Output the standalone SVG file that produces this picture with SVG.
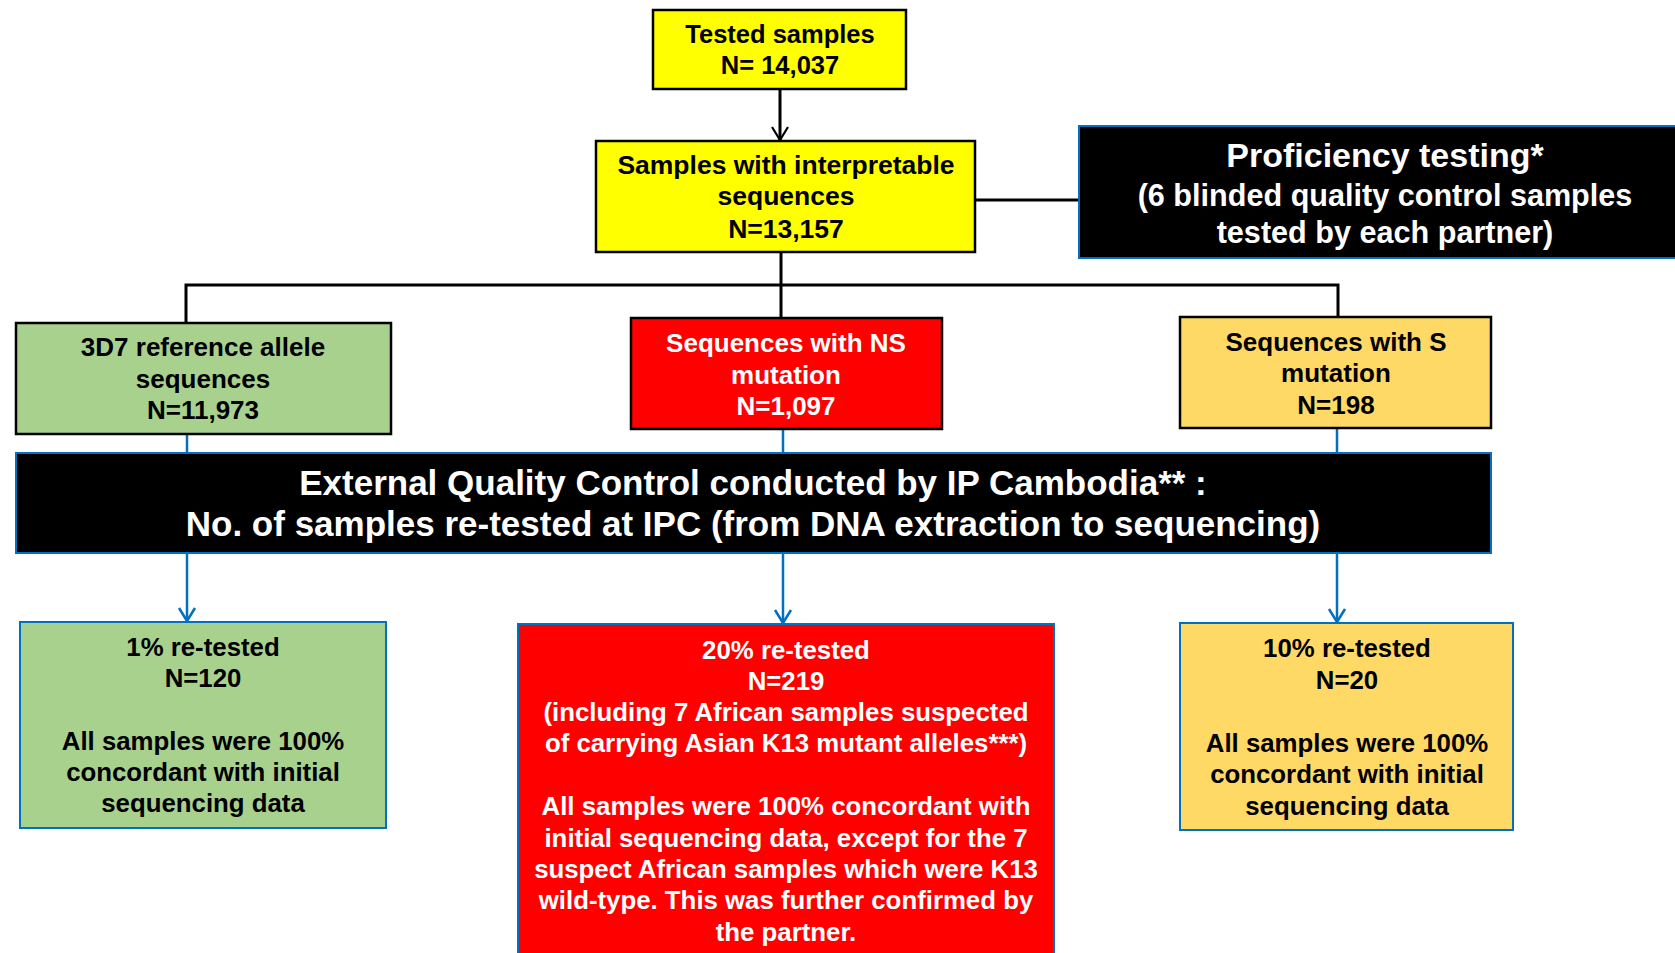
<svg xmlns="http://www.w3.org/2000/svg" width="1675" height="953" viewBox="0 0 1675 953">
<style>
text{font-family:"Liberation Sans",Arial,sans-serif;font-weight:bold;text-anchor:middle}
.k{fill:#000}
.w{fill:#fff}
.f25{font-size:25.8px}
.f26{font-size:26px}
.bk{stroke:#000;stroke-width:2.5}
.bl{stroke:#0070C0;stroke-width:2}
.cb{fill:none;stroke:#000;stroke-width:3}
.cu{fill:none;stroke:#0070C0;stroke-width:2.5}
</style>
<defs>
<marker id="ak" viewBox="0 0 16 20" refX="15" refY="10" markerWidth="16" markerHeight="20" markerUnits="userSpaceOnUse" orient="auto">
<path d="M2,2 L15,10 L2,18" fill="none" stroke="#000" stroke-width="2.2"/>
</marker>
<marker id="au" viewBox="0 0 16 20" refX="15" refY="10" markerWidth="16" markerHeight="20" markerUnits="userSpaceOnUse" orient="auto">
<path d="M2,2 L15,10 L2,18" fill="none" stroke="#0070C0" stroke-width="2.5"/>
</marker>
</defs>
<rect width="1675" height="953" fill="#fff"/>
<g id="connectors">
<path class="cb" d="M780,89 V140" marker-end="url(#ak)" stroke-width="2"/>
<path class="cb" d="M975,200 H1079"/>
<path class="cb" d="M781,252 V318"/>
<path class="cb" d="M186,323 V285 H1338 V317"/>
<path class="cu" d="M187,434 V453"/>
<path class="cu" d="M783,429 V453"/>
<path class="cu" d="M1337,428 V453"/>
<path class="cu" d="M187,553 V621" marker-end="url(#au)"/>
<path class="cu" d="M783,553 V623" marker-end="url(#au)"/>
<path class="cu" d="M1337,553 V622" marker-end="url(#au)"/>
</g>
<g id="tested">
<rect x="653" y="10" width="253" height="79" fill="#FFFF00" class="bk"/>
<text class="k" font-size="25.5" x="780" y="43">Tested samples</text>
<text class="k" font-size="25.5" x="780" y="74">N= 14,037</text>
</g>
<g id="interpretable">
<rect x="596" y="141" width="379" height="111" fill="#FFFF00" class="bk"/>
<text class="k" font-size="26.5" x="786" y="174">Samples with interpretable</text>
<text class="k" font-size="26.5" x="786" y="205">sequences</text>
<text class="k" font-size="26.5" x="786" y="238">N=13,157</text>
</g>
<g id="proficiency">
<rect x="1079" y="126" width="610" height="132" fill="#000" class="bl"/>
<text class="w" x="1385" y="167" font-size="34">Proficiency testing*</text>
<text class="w" x="1385" y="206" font-size="30.6">(6 blinded quality control samples</text>
<text class="w" x="1385" y="243" font-size="30.6">tested by each partner)</text>
</g>
<g id="reference">
<rect x="16" y="323" width="375" height="111" fill="#A9D18E" class="bk"/>
<text class="k f26" x="203" y="356">3D7 reference allele</text>
<text class="k f26" x="203" y="388">sequences</text>
<text class="k f26" x="203" y="419">N=11,973</text>
</g>
<g id="ns">
<rect x="631" y="318" width="311" height="111" fill="#FF0000" class="bk"/>
<text class="w f26" x="786" y="352">Sequences with NS</text>
<text class="w f26" x="786" y="384">mutation</text>
<text class="w f26" x="786" y="415">N=1,097</text>
</g>
<g id="s">
<rect x="1180" y="317" width="311" height="111" fill="#FFD966" class="bk"/>
<text class="k f26" x="1336" y="351">Sequences with S</text>
<text class="k f26" x="1336" y="382">mutation</text>
<text class="k f26" x="1336" y="414">N=198</text>
</g>
<g id="eqc">
<rect x="16" y="453" width="1475" height="100" fill="#000" class="bl"/>
<text class="w" x="753" y="495" font-size="35">External Quality Control conducted by IP Cambodia** :</text>
<text class="w" x="753" y="536" font-size="35">No. of samples re-tested at IPC (from DNA extraction to sequencing)</text>
</g>
<g id="retest1">
<rect x="20" y="622" width="366" height="206" fill="#A9D18E" class="bl"/>
<text class="k f25" x="203" y="656">1% re-tested</text>
<text class="k f25" x="203" y="687">N=120</text>
<text class="k f25" x="203" y="750">All samples were 100%</text>
<text class="k f25" x="203" y="781">concordant with initial</text>
<text class="k f25" x="203" y="812">sequencing data</text>
</g>
<g id="retest20">
<rect x="518" y="624" width="536" height="345" fill="#FF0000" class="bl"/>
<text class="w f25" x="786" y="659">20% re-tested</text>
<text class="w f25" x="786" y="690">N=219</text>
<text class="w f25" x="786" y="721">(including 7 African samples suspected</text>
<text class="w f25" x="786" y="752">of carrying Asian K13 mutant alleles***)</text>
<text class="w f25" x="786" y="815">All samples were 100% concordant with</text>
<text class="w f25" x="786" y="847">initial sequencing data, except for the 7</text>
<text class="w f25" x="786" y="878">suspect African samples which were K13</text>
<text class="w f25" x="786" y="909">wild-type. This was further confirmed by</text>
<text class="w f25" x="786" y="941">the partner.</text>
</g>
<g id="retest10">
<rect x="1180" y="623" width="333" height="207" fill="#FFD966" class="bl"/>
<text class="k f25" x="1347" y="657">10% re-tested</text>
<text class="k f25" x="1347" y="689">N=20</text>
<text class="k f25" x="1347" y="752">All samples were 100%</text>
<text class="k f25" x="1347" y="783">concordant with initial</text>
<text class="k f25" x="1347" y="815">sequencing data</text>
</g>
</svg>
